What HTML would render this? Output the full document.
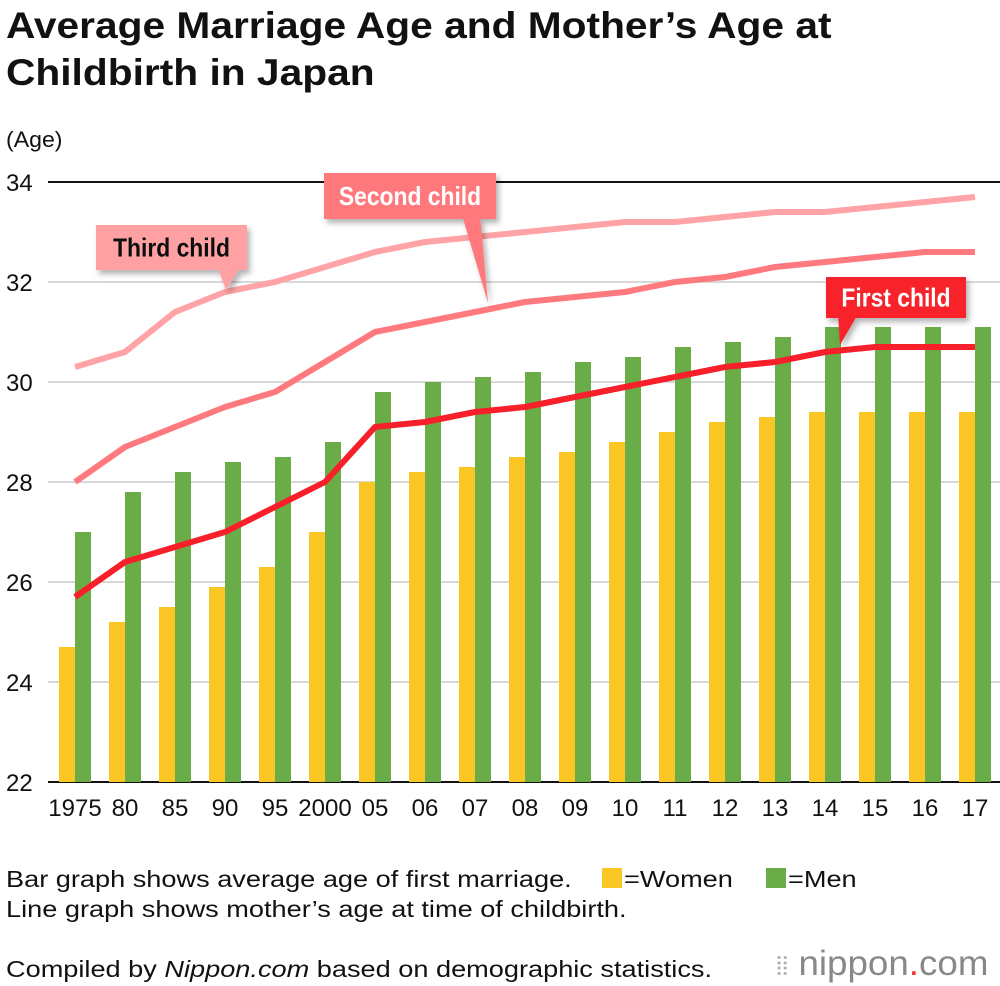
<!DOCTYPE html>
<html><head><meta charset="utf-8"><style>
body{margin:0;background:#fff;font-family:"Liberation Sans",sans-serif;}
#wrap{position:relative;width:1000px;height:986px;overflow:hidden;}
.t{position:absolute;color:#111;transform-origin:0 0;white-space:nowrap;}
</style></head><body>
<div id="wrap">
<div class="t" style="left:6px;top:2px;font-size:37px;font-weight:bold;line-height:47px;transform:scaleX(1.1)">Average Marriage Age and Mother’s Age at<br>Childbirth in Japan</div>
<div class="t" style="left:6px;top:127px;font-size:22px;transform:scaleX(1.05)">(Age)</div>
<svg id="chart" width="1000" height="986" style="position:absolute;left:0;top:0">
<defs><filter id="sh" x="-20%" y="-20%" width="150%" height="160%"><feDropShadow dx="3" dy="4" stdDeviation="3" flood-color="#000" flood-opacity="0.3"/></filter></defs>
</svg>
<div class="t" style="left:6px;top:866px;font-size:23px;transform:scaleX(1.18)">Bar graph shows average age of first marriage.</div>
<div style="position:absolute;left:602px;top:868px;width:20px;height:20px;background:#f9c623"></div>
<div class="t" style="left:624px;top:866px;font-size:23px;transform:scaleX(1.18)">=Women</div>
<div style="position:absolute;left:766px;top:868px;width:20px;height:20px;background:#6aac47"></div>
<div class="t" style="left:788px;top:866px;font-size:23px;transform:scaleX(1.18)">=Men</div>
<div class="t" style="left:6px;top:896px;font-size:23px;transform:scaleX(1.18)">Line graph shows mother’s age at time of childbirth.</div>
<div class="t" style="left:6px;top:956px;font-size:23px;transform:scaleX(1.18)">Compiled by <i>Nippon.com</i> based on demographic statistics.</div>
<div class="t" style="left:776px;top:944px;font-size:35px;color:#888;transform:scaleX(1.05)"><span style="font-size:26px;color:#aaa">⦙⦙</span> nippon<span style="color:#e33">.</span>com</div>
</div>
<script>
const categories=["1975","80","85","90","95","2000","05","06","07","08","09","10","11","12","13","14","15","16","17"];
const women=[24.7,25.2,25.5,25.9,26.3,27.0,28.0,28.2,28.3,28.5,28.6,28.8,29.0,29.2,29.3,29.4,29.4,29.4,29.4];
const men=[27.0,27.8,28.2,28.4,28.5,28.8,29.8,30.0,30.1,30.2,30.4,30.5,30.7,30.8,30.9,31.1,31.1,31.1,31.1];
const firstChild=[25.7,26.4,26.7,27.0,27.5,28.0,29.1,29.2,29.4,29.5,29.7,29.9,30.1,30.3,30.4,30.6,30.7,30.7,30.7];
const secondChild=[28.0,28.7,29.1,29.5,29.8,30.4,31.0,31.2,31.4,31.6,31.7,31.8,32.0,32.1,32.3,32.4,32.5,32.6,32.6];
const thirdChild=[30.3,30.6,31.4,31.8,32.0,32.3,32.6,32.8,32.9,33.0,33.1,33.2,33.2,33.3,33.4,33.4,33.5,33.6,33.7];
const yTicks=[22,24,26,28,30,32,34];
const NS="http://www.w3.org/2000/svg";
const svg=document.getElementById('chart');
const y=v=>782-(v-22)*50;
const x=i=>75+i*50;
function mk(t,a,p){const e=document.createElementNS(NS,t);for(const k in a)e.setAttribute(k,a[k]);(p||svg).appendChild(e);return e;}
yTicks.forEach(v=>{
  const l=mk('line',{x1:48,x2:1000,y1:y(v),y2:y(v),stroke:v===34?'#111':'#ccc','stroke-width':v===34?2:1.5});
  
  
  const t=mk('text',{x:6,y:y(v)+9,'font-size':24,fill:'#111'});t.textContent=v;
  
  
});
const ax=mk('line',{x1:48,x2:1000,y1:782,y2:782,stroke:'#111','stroke-width':2});


categories.forEach((c,i)=>{
  const bw=mk('rect',{x:x(i)-16,y:y(women[i]),width:16,height:782-y(women[i]),fill:'#f9c623'});
  
  
  const bm=mk('rect',{x:x(i),y:y(men[i]),width:16,height:782-y(men[i]),fill:'#6aac47'});
  
  
  const t=mk('text',{x:x(i),y:816,'font-size':24,fill:'#111','text-anchor':'middle'});t.textContent=c;
  
  
});
function line(d,col,name){
  const p=mk('polyline',{points:d.map((v,i)=>x(i)+','+y(v)).join(' '),fill:'none',stroke:col,'stroke-width':6,'stroke-linejoin':'round'});
  
  
}
line(thirdChild,'#ffa3a6','line-third-child');
line(secondChild,'#ff7a7e','line-second-child');
line(firstChild,'#f7202a','line-first-child');
function callout(bx,by,bw,bh,pts,col,txt,tc,name){
  const g=mk('g',{filter:'url(#sh)'});
  
  
  mk('polygon',{points:pts,fill:col},g);
  mk('rect',{x:bx,y:by,width:bw,height:bh,fill:col},g);
  const t=mk('text',{x:bx+bw/2,y:by+bh/2+9,'font-size':26,'font-weight':'bold',fill:tc,'text-anchor':'middle',transform:`translate(${bx+bw/2},0) scale(0.88,1) translate(${-(bx+bw/2)},0)`},g);t.textContent=txt;
}
callout(96,225,151,45,'218,268 240,268 226,290','#ffa0a3','Third child','#111','label-third-child');
callout(324,173,172,46,'462,215 480,215 488,303','#ff787b','Second child','#fff','label-second-child');
callout(826,277,140,41,'838,314 858,314 840,345','#f7222a','First child','#fff','label-first-child');
</script>
</body></html>
